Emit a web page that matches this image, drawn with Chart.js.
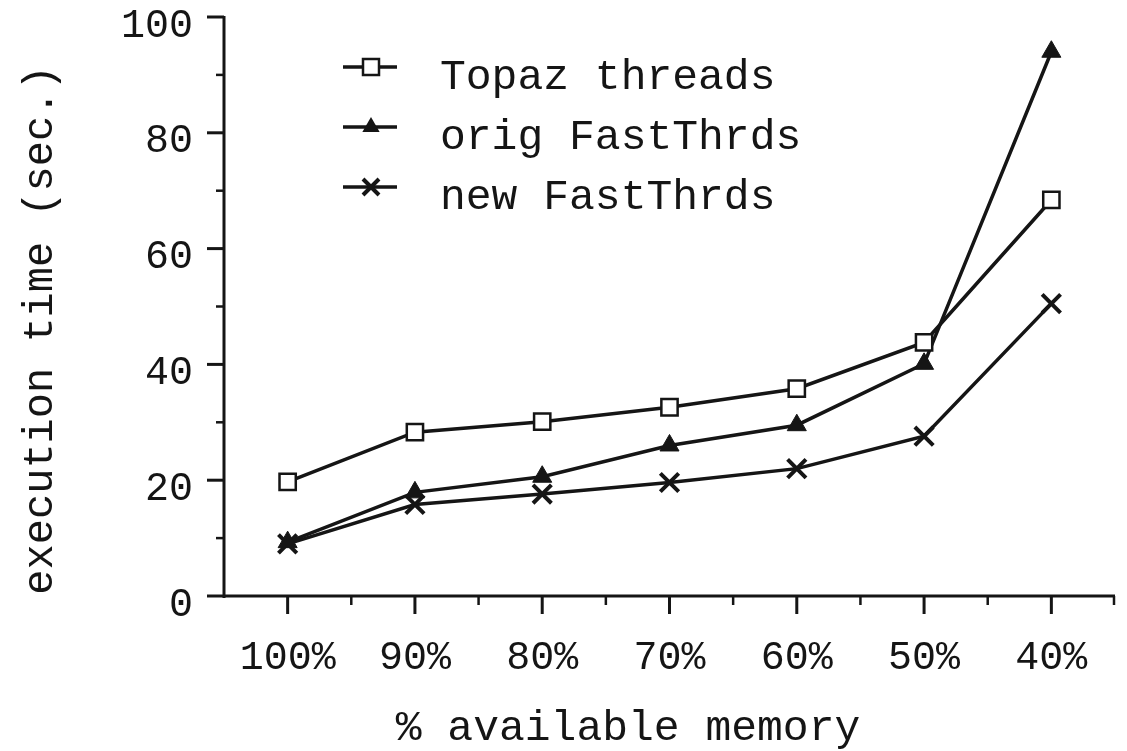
<!DOCTYPE html>
<html>
<head>
<meta charset="utf-8">
<script src="https://cdn.jsdelivr.net/npm/chart.js@4.4.1/dist/chart.umd.min.js"></script>
<style>
html,body{margin:0;padding:0;background:#fff;}
#wrap{width:1127px;height:751px;position:relative;}
</style>
</head>
<body>
<div id="wrap"><canvas id="c" width="1127" height="751"></canvas></div>
<script>
// ---- data ----
const categories = ['100%', '90%', '80%', '70%', '60%', '50%', '40%'];
const topazThreads  = [19.7, 28.3, 30.1, 32.6, 35.8, 43.8, 68.4];
const origFastThrds = [9.3, 17.9, 20.6, 26.0, 29.5, 40.1, 94.0];
const newFastThrds  = [9.0, 15.8, 17.6, 19.6, 22.0, 27.6, 50.5];
const seriesNames = ['Topaz threads', 'orig FastThrds', 'new FastThrds'];
const yTickValues = [0, 20, 40, 60, 80, 100];
const yMinorValues = [10, 30, 50, 70, 90];
const xTitle = '% available memory';
const yTitle = 'execution time (sec.)';

const INK = '#151515';
const FONT = '"Liberation Mono", "Courier New", monospace';
const PLOT_RIGHT = 1115;

function drawMarker(ctx, style, x, y) {
  ctx.save();
  ctx.strokeStyle = INK;
  ctx.fillStyle = INK;
  if (style === 'rect') {
    ctx.fillStyle = '#fff';
    ctx.lineWidth = 2.5;
    ctx.beginPath(); ctx.rect(x - 8, y - 8, 16, 16); ctx.fill(); ctx.stroke();
  } else if (style === 'triangle') {
    const r = 10;
    ctx.beginPath();
    ctx.moveTo(x, y - r);
    ctx.lineTo(x + r * 0.866, y + r * 0.5);
    ctx.lineTo(x - r * 0.866, y + r * 0.5);
    ctx.closePath(); ctx.fill();
  } else {
    const d = 8;
    ctx.lineWidth = 4;
    ctx.beginPath();
    ctx.moveTo(x - d, y - d); ctx.lineTo(x + d, y + d);
    ctx.moveTo(x + d, y - d); ctx.lineTo(x - d, y + d);
    ctx.stroke();
  }
  ctx.restore();
}

const decorPlugin = {
  id: 'decor',
  afterLayout(chart) {
    const xs = chart.scales.x;
    if (Math.abs(xs.right - PLOT_RIGHT) > 0.5) {
      xs.right = PLOT_RIGHT;
      xs.width = xs.right - xs.left;
      chart.chartArea.right = PLOT_RIGHT;
      chart.chartArea.width = PLOT_RIGHT - chart.chartArea.left;
      xs.configure();
    }
  },
  beforeDatasetsDraw(chart) {
    const ctx = chart.ctx;
    const xs = chart.scales.x, ys = chart.scales.y;
    const ca = chart.chartArea;
    ctx.save();
    ctx.strokeStyle = INK;
    ctx.lineCap = 'butt';
    // axis lines
    ctx.lineWidth = 3;
    ctx.beginPath();
    ctx.moveTo(ca.left, ca.top - 1); ctx.lineTo(ca.left, ca.bottom + 2);
    ctx.moveTo(ca.left, ca.bottom); ctx.lineTo(ca.right, ca.bottom);
    ctx.stroke();
    // y major ticks
    yTickValues.forEach(v => {
      const p = ys.getPixelForValue(v);
      ctx.lineWidth = 3;
      ctx.beginPath(); ctx.moveTo(ca.left - 17, p); ctx.lineTo(ca.left, p); ctx.stroke();
    });
    yMinorValues.forEach(v => {
      const p = ys.getPixelForValue(v);
      ctx.lineWidth = 2.5;
      ctx.beginPath(); ctx.moveTo(ca.left - 8, p); ctx.lineTo(ca.left, p); ctx.stroke();
    });
    // x major and minor ticks
    categories.forEach((c, i) => {
      const p = xs.getPixelForValue(i);
      ctx.lineWidth = 3;
      ctx.beginPath(); ctx.moveTo(p, ca.bottom); ctx.lineTo(p, ca.bottom + 18); ctx.stroke();
      if (i < categories.length - 1) {
        const q = (p + xs.getPixelForValue(i + 1)) / 2;
        ctx.lineWidth = 2.5;
        ctx.beginPath(); ctx.moveTo(q, ca.bottom); ctx.lineTo(q, ca.bottom + 9); ctx.stroke();
      }
    });
    ctx.lineWidth = 2.5;
    ctx.beginPath(); ctx.moveTo(ca.right - 1, ca.bottom); ctx.lineTo(ca.right - 1, ca.bottom + 9); ctx.stroke();

    // axis titles
    ctx.fillStyle = INK;
    ctx.font = '43px ' + FONT;
    ctx.textAlign = 'center';
    ctx.textBaseline = 'alphabetic';
    ctx.fillText(xTitle, 628, 740);
    ctx.save();
    ctx.translate(52, 330);
    ctx.rotate(-Math.PI / 2);
    ctx.font = '42px ' + FONT;
    ctx.fillText(yTitle, 0, 0);
    ctx.restore();

    // legend
    const styles = ['rect', 'triangle', 'crossRot'];
    const rows = [67, 127, 187];
    ctx.font = '43px ' + FONT;
    ctx.textAlign = 'left';
    seriesNames.forEach((name, i) => {
      const y = rows[i];
      ctx.lineWidth = 3.5;
      ctx.beginPath(); ctx.moveTo(343, y); ctx.lineTo(397, y); ctx.stroke();
      drawMarker(ctx, styles[i], 371, y);
      ctx.fillStyle = INK;
      ctx.fillText(name, 440, y + 22);
    });
    ctx.restore();
  }
};

const lineStyle = {
  borderColor: INK,
  borderWidth: 3.5,
  tension: 0,
  fill: false,
  pointBorderColor: INK
};

new Chart(document.getElementById('c'), {
  type: 'line',
  data: {
    labels: categories,
    datasets: [
      Object.assign({}, lineStyle, {
        label: seriesNames[0], data: topazThreads,
        pointStyle: 'rect', pointRadius: 11.5, pointBackgroundColor: '#fff', pointBorderWidth: 2.5
      }),
      Object.assign({}, lineStyle, {
        label: seriesNames[1], data: origFastThrds,
        pointStyle: 'triangle', pointRadius: 11, pointBackgroundColor: INK, pointBorderWidth: 1
      }),
      Object.assign({}, lineStyle, {
        label: seriesNames[2], data: newFastThrds,
        pointStyle: 'crossRot', pointRadius: 13, pointBackgroundColor: INK, pointBorderWidth: 4
      })
    ]
  },
  options: {
    responsive: false,
    animation: false,
    devicePixelRatio: 1,
    layout: { padding: { left: 0, top: 16, right: 12, bottom: 0 } },
    plugins: { legend: { display: false }, tooltip: { enabled: false } },
    scales: {
      x: {
        type: 'category',
        offset: true,
        grid: { display: false, drawTicks: false },
        border: { display: false },
        ticks: {
          autoSkip: false, maxRotation: 0, minRotation: 0,
          padding: 0, color: INK,
          font: { family: FONT, size: 40, lineHeight: 3.1 }
        },
        afterFit(scale) { scale.height = 155; scale.paddingLeft = 0; scale.paddingRight = 0; }
      },
      y: {
        min: 0, max: 100,
        grid: { display: false, drawTicks: false },
        border: { display: false },
        afterBuildTicks(scale) { scale.ticks = yTickValues.map(v => ({ value: v })); },
        ticks: {
          padding: 31, labelOffset: 9, color: INK,
          font: { family: FONT, size: 40 }
        },
        afterFit(scale) { scale.width = 224; scale.paddingTop = 0; scale.paddingBottom = 0; }
      }
    }
  },
  plugins: [decorPlugin]
});
</script>
</body>
</html>
